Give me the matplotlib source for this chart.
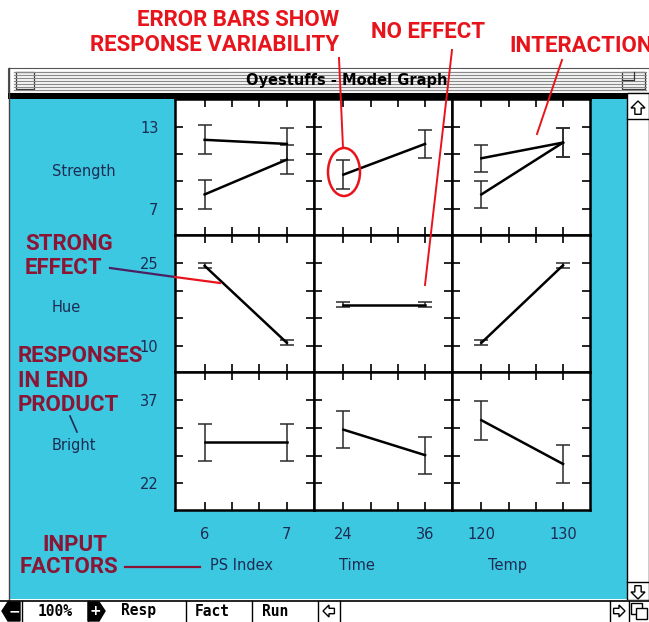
import numpy as np
import matplotlib
matplotlib.use('Agg')
import matplotlib.pyplot as plt
from matplotlib.patches import Rectangle, Ellipse, Polygon

W, H = 649, 622

# responses (rows) and input factors (columns)
responses = ['Strength', 'Hue', 'Bright']
resp_range = [(13, 7), (25, 10), (37, 22)]
factors = ['PS Index', 'Time', 'Temp']
factor_levels = [(6, 7), (24, 36), (120, 130)]

# mean response at low / high level of each factor, one pair per line
strength_mean = [[[12.05, 11.75], [8.05, 10.6]], [[9.5, 11.75]], [[10.7, 11.85], [8.05, 11.85]]]
strength_err = [[[1.05, 1.2], [1.05, 1.05]], [[1.05, 1.0]], [[1.0, 1.05], [1.0, 1.05]]]
hue_mean = [[[24.5, 10.5]], [[17.4, 17.4]], [[10.5, 24.6]]]
hue_err = [[[0.45, 0.45]], [[0.45, 0.45]], [[0.45, 0.45]]]
bright_mean = [[[29.4, 29.4]], [[31.7, 27.1]], [[33.4, 25.5]]]
bright_err = [[[3.3, 3.3]], [[3.35, 3.35]], [[3.5, 3.4]]]

means = [strength_mean, hue_mean, bright_mean]
errs = [strength_err, hue_err, bright_err]

CYAN = '#3dc8e2'
NAVY = '#1d2b52'
RED = '#e8141c'
MAROON = '#8a1535'

fig = plt.figure(figsize=(W / 100, H / 100), dpi=100)
fig.patch.set_facecolor('white')


def box(x0, y0, x1, y1):
    return [x0 / W, 1 - y1 / H, (x1 - x0) / W, (y1 - y0) / H]


# ---- window chrome (pixel coords) ----
bg = fig.add_axes([0, 0, 1, 1])
bg.set_xlim(0, W)
bg.set_ylim(H, 0)
bg.axis('off')
bg.add_patch(Rectangle((9, 99), 618, 500, color=CYAN, lw=0))
bg.plot([8.5, 8.5], [68, 600], color='#444', lw=1)
# title bar
bg.add_patch(Rectangle((8, 68), 641, 25, facecolor='white', edgecolor='#555', lw=0.8))
for yy in np.arange(72, 91, 3):
    bg.plot([14, 646], [yy, yy], color='#8a8a8a', lw=0.9)
bg.add_patch(Rectangle((230, 69), 232, 23, color='white', lw=0))
bg.add_patch(Rectangle((16, 72), 18, 17, facecolor='white', edgecolor='#333', lw=0.9))
bg.add_patch(Rectangle((622, 72), 23, 17, facecolor='white', edgecolor='#333', lw=0.9))
bg.plot([622, 634, 634], [80, 80, 72], color='#333', lw=0.9)
bg.text(347, 81, 'Oyestuffs - Model Graph', ha='center', va='center',
        fontsize=10.5, fontweight='bold', color='black')
bg.add_patch(Rectangle((8, 93), 619, 6, color='black', lw=0))
# scroll bar
bg.add_patch(Rectangle((627, 93), 22, 507, facecolor='white', edgecolor='black', lw=1))
bg.plot([627, 649], [119, 119], color='black', lw=1)
bg.plot([627, 649], [582, 582], color='black', lw=1)


def arrow(cx, cy, d, s=7):
    pts = np.array([[0, -1], [1, 0], [0.45, 0], [0.45, 0.9], [-0.45, 0.9], [-0.45, 0], [-1, 0]])
    rot = {'up': np.array([[1, 0], [0, 1]]), 'down': np.array([[1, 0], [0, -1]]),
           'left': np.array([[0, 1], [1, 0]]), 'right': np.array([[0, -1], [1, 0]])}[d]
    p = pts @ rot.T * s + [cx, cy]
    bg.add_patch(Polygon(p, closed=True, facecolor='white', edgecolor='black', lw=1))


arrow(638, 108, 'up')
arrow(638, 592, 'down')
# bottom bar
bg.add_patch(Rectangle((0, 600), W, 22, facecolor='white', edgecolor='none'))
bg.plot([0, W], [600.5, 600.5], color='black', lw=1.2)
for xx in [22, 88, 186, 252, 318, 340, 610, 629]:
    bg.plot([xx, xx], [601, 622], color='black', lw=1)
bg.add_patch(Polygon([[2, 611], [8, 602], [20, 602], [20, 621], [8, 621]], color='black'))
bg.text(14, 611, '−', ha='center', va='center', color='white', fontsize=10, fontweight='bold')
bg.add_patch(Polygon([[88, 602], [99, 602], [105, 611], [99, 621], [88, 621]], color='black'))
bg.text(95, 611, '+', ha='center', va='center', color='white', fontsize=10, fontweight='bold')
for txt, xx in [('100%', 55), ('Resp', 138), ('Fact', 212), ('Run', 275)]:
    bg.text(xx, 611, txt, ha='center', va='center', fontsize=10.5, fontweight='bold',
            family='DejaVu Sans Mono')
arrow(329, 611, 'left', 6)
arrow(619, 611, 'right', 6)
bg.add_patch(Rectangle((631, 603), 11, 11, facecolor='white', edgecolor='black', lw=1))
bg.add_patch(Rectangle((636, 608), 11, 11, facecolor='white', edgecolor='black', lw=1))

# ---- 3x3 grid of effect plots ----
col_edges = [175, 314, 452, 590]
row_edges = [99, 235, 372, 510]
xlabel_pos = [0.475, 0.31, 0.40]

for r in range(3):
    hi, lo = resp_range[r]
    yt = np.linspace(hi, lo, 4)
    span = hi - lo
    for c in range(3):
        ax = fig.add_axes(box(col_edges[c], row_edges[r], col_edges[c + 1], row_edges[r + 1]))
        ax.set_facecolor('white')
        x0, x1 = factor_levels[c]
        xt = np.linspace(x0, x1, 4)
        for m, e in zip(means[r][c], errs[r][c]):
            ax.plot(factor_levels[c], m, color='black', lw=1.8, zorder=3)
            ax.errorbar(factor_levels[c], m, yerr=e, fmt='none', ecolor='#2a2a2a',
                        elinewidth=1.1, capsize=5, capthick=1.1, zorder=2)
        ax.set_xlim(x0 - 0.36 * (x1 - x0), x1 + 0.33 * (x1 - x0))
        ax.set_ylim(lo - 0.32 * span, hi + 0.34 * span)
        ax.set_xticks(xt)
        ax.set_yticks(yt)
        ax.set_xticklabels([f'{x0:g}', '', '', f'{x1:g}'])
        ax.set_yticklabels([f'{hi:g}', '', '', f'{lo:g}'])
        ax.tick_params(direction='in', length=6, width=1.2, top=True, right=True,
                       labelleft=(c == 0), labelbottom=(r == 2), pad=12,
                       labelsize=10.5, labelcolor=NAVY)
        for s in ax.spines.values():
            s.set_linewidth(1.8)
        if c == 0:
            ax.set_ylabel(responses[r], rotation=0, ha='left', va='center',
                          fontsize=10.5, color=NAVY)
            ax.yaxis.set_label_coords(-0.885, 0.47)
        if r == 2:
            ax.set_xlabel(factors[c], fontsize=10.5, color=NAVY)
            ax.xaxis.set_label_coords(xlabel_pos[c], -0.35)

# ---- red call-outs ----
top = fig.add_axes([0, 0, 1, 1], zorder=10)
top.set_xlim(0, W)
top.set_ylim(H, 0)
top.axis('off')
top.patch.set_visible(False)
fam = ['Roboto', 'DejaVu Sans']
kw = dict(fontsize=16, fontweight='bold', family=fam, va='center')
top.text(339, 20, 'ERROR BARS SHOW', ha='right', color=RED, **kw)
top.text(339, 45, 'RESPONSE VARIABILITY', ha='right', color=RED, **kw)
top.text(428, 32, 'NO EFFECT', ha='center', color=RED, **kw)
top.text(509, 46, 'INTERACTION', ha='left', color=RED, **kw)
top.text(25, 244, 'STRONG', ha='left', color=MAROON, **kw)
top.text(25, 268, 'EFFECT', ha='left', color=MAROON, **kw)
top.text(18, 356, 'RESPONSES', ha='left', color=MAROON, **kw)
top.text(18, 381, 'IN END', ha='left', color=MAROON, **kw)
top.text(18, 405, 'PRODUCT', ha='left', color=MAROON, **kw)
top.text(75, 545, 'INPUT', ha='center', color=MAROON, **kw)
top.text(20, 567, 'FACTORS', ha='left', color=MAROON, **kw)

top.add_patch(Ellipse((344, 172), 32, 48, fill=False, edgecolor=RED, lw=1.8))
top.plot([339, 343], [58, 148], color=RED, lw=1.4)
top.plot([452, 425], [50, 285], color=RED, lw=1.4)
top.plot([562, 537], [60, 134], color=RED, lw=1.4)
top.plot([110, 175], [268, 277], color='#4a2060', lw=1.6)
top.plot([175, 220], [277, 283], color=RED, lw=1.6)
top.plot([70, 77], [416, 432], color=NAVY, lw=1.2)
top.plot([125, 200], [567, 567], color=MAROON, lw=1.6)

fig.savefig('out.png', dpi=100)
